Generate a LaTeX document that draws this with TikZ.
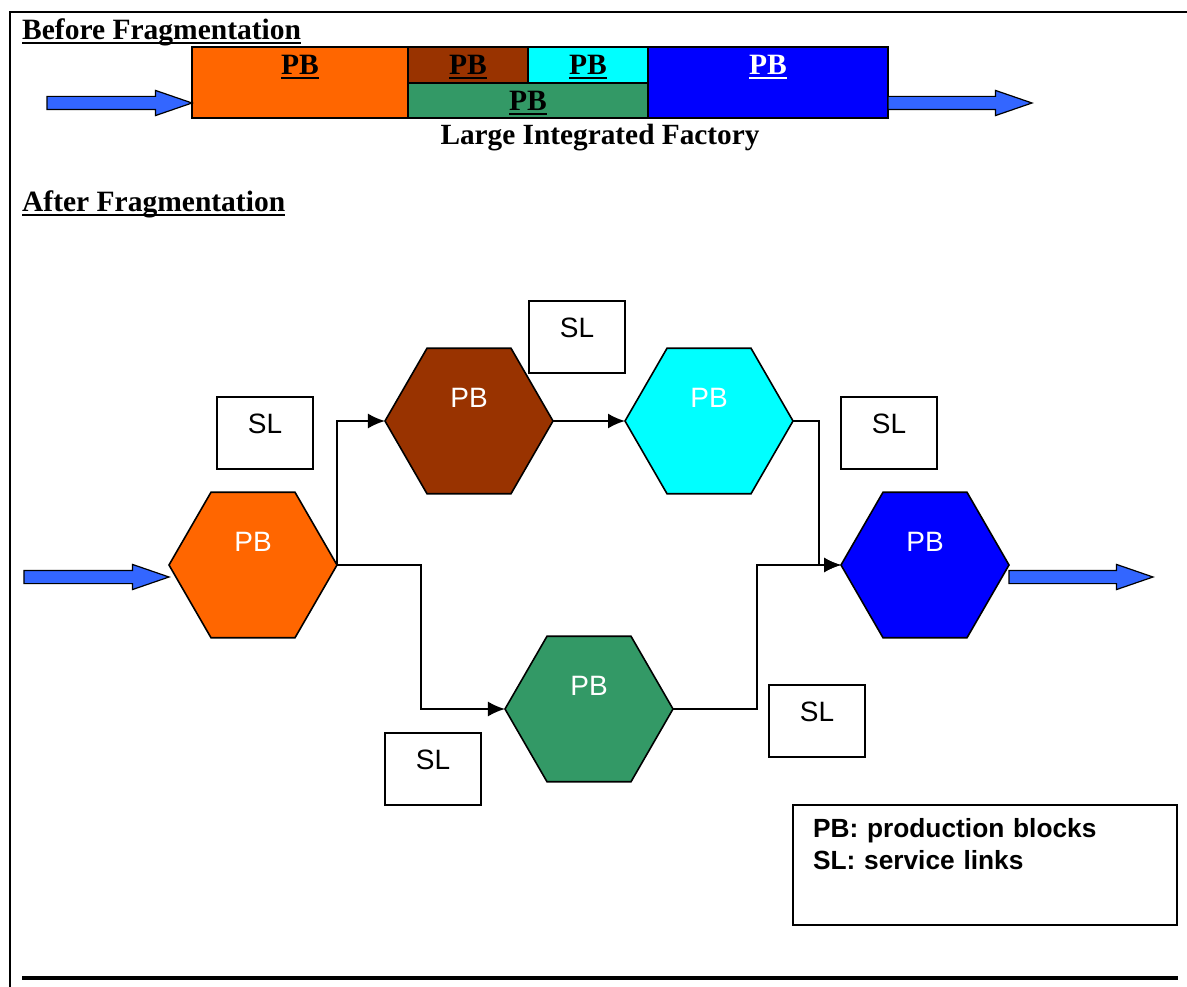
\documentclass[tikz,border=0pt]{standalone}
\usepackage{fontspec}
\setmainfont{Liberation Serif}
\newfontfamily\arialfont{Liberation Sans}
\newsavebox{\ulbox}
\newcommand{\ulword}[1]{\sbox{\ulbox}{#1}\rlap{\rule[-4.5pt]{\wd\ulbox}{2.5pt}}\usebox{\ulbox}}
\usepackage{tikz}
\usetikzlibrary{shapes.geometric, shapes.arrows, arrows.meta, positioning, calc}
\definecolor{pborange}{HTML}{FF6600}
\definecolor{pbbrown}{HTML}{993300}
\definecolor{pbcyan}{HTML}{00FFFF}
\definecolor{pbgreen}{HTML}{339966}
\definecolor{pbblue}{HTML}{0000FF}
\definecolor{blockblue}{HTML}{3366FF}
\tikzstyle{flow} = [line width=2pt,-{Latex[length=17pt,width=15pt]}]
\tikzstyle{bigarrow} = [single arrow, draw=black, fill=blockblue, line width=1.2pt, minimum height=145pt, minimum width=24pt, single arrow head extend=6pt, single arrow tip angle=38, inner xsep=0pt, inner ysep=6pt, outer sep=0pt]

\begin{document}
\begin{tikzpicture}[x=1pt, y=-1pt,
		bar/.style={rectangle, draw=black, line width=2.5pt, inner sep=0pt, outer sep=0pt, anchor=north west},
		barpb/.style={anchor=north, inner sep=0pt, yshift=-8pt, font=\fontsize{29.5}{34}\selectfont\bfseries},
		title/.style={anchor=base west, inner sep=0pt, font=\fontsize{29.5}{34}\selectfont\bfseries},
		hexblock/.style={regular polygon, regular polygon sides=6, minimum size=168pt, draw=black, line width=1.6pt, inner sep=0pt, outer sep=0pt, text=white, text depth=46pt, font=\arialfont\fontsize{28}{32}\selectfont},
		slbox/.style={rectangle, draw=black, line width=1.6pt, fill=white, minimum width=96pt, minimum height=72pt, inner sep=0pt, text depth=18pt, font=\arialfont\fontsize{28}{32}\selectfont},
		legend/.style={rectangle, draw=black, line width=1.6pt, minimum width=384pt, minimum height=120pt, text width=344pt, align=left, font=\arialfont\bfseries\fontsize{26.3}{32}\selectfont}]
		
		\useasboundingbox (0,0) rectangle (1187,987);
		\draw[line width=2pt] (10,987) -- (10,12) -- (1187,12);
		\draw[line width=4pt] (22,978) -- (1178,978);
		
		\node (before) [title] at (22,40) {\ulword{Before Fragmentation}};
		\node (barorange) [bar, fill=pborange, minimum width=216pt, minimum height=71pt, label={[barpb]north:\ulword{PB}}] at (192,47) {};
		\node (barbrown) [bar, fill=pbbrown, minimum width=120pt, minimum height=36pt, label={[barpb]north:\ulword{PB}}] at (barorange.north east) {};
		\node (barcyan) [bar, fill=pbcyan, minimum width=120pt, minimum height=36pt, label={[barpb]north:\ulword{PB}}] at (barbrown.north east) {};
		\node (bargreen) [bar, fill=pbgreen, minimum width=240pt, minimum height=35pt, label={[barpb]north:\ulword{PB}}] at (barbrown.south west) {};
		\node (barblue) [bar, fill=pbblue, minimum width=240pt, minimum height=71pt, label={[barpb, text=white]north:\ulword{PB}}] at (barcyan.north east) {};
		\node (infactory) [bigarrow, anchor=tip] at ([yshift=-20.5pt]barorange.west) {};
		\node (outfactory) [bigarrow, anchor=tail, minimum height=144pt] at ([yshift=-20.5pt]barblue.east) {};
		\node (factory) [anchor=base, inner sep=0pt, font=\fontsize{29.3}{34}\selectfont\bfseries] at (600,145) {Large Integrated Factory};
		
		\node (after) [title] at (22,212) {\ulword{After Fragmentation}};
		
		\node (hexorange) [hexblock, fill=pborange] at (253,565) {PB};
		\node (hexbrown) [hexblock, fill=pbbrown] at (469,421) {PB};
		\node (hexcyan) [hexblock, fill=pbcyan, right=72pt of hexbrown] {PB};
		\node (hexgreen) [hexblock, fill=pbgreen] at (589,709) {PB};
		\node (hexblue) [hexblock, fill=pbblue] at (925,565) {PB};
		
		\node (slone) [slbox] at (265,433) {SL};
		\node (sltwo) [slbox] at (577,337) {SL};
		\node (slthree) [slbox] at (889,433) {SL};
		\node (slfour) [slbox] at (817,721) {SL};
		\node (slfive) [slbox] at (433,769) {SL};
		
		\node (inflow) [bigarrow, anchor=tip] at ([yshift=-12pt]hexorange.west) {};
		\node (outflow) [bigarrow, anchor=tail, minimum height=144pt] at ([yshift=-12pt]hexblue.east) {};
		
		\draw[flow] (hexorange.east) |- (hexbrown.west);
		\draw[flow] (hexorange.east) -- ++(84,0) |- (hexgreen.west);
		\draw[flow] (hexbrown.east) -- (hexcyan.west);
		\draw[flow] (hexcyan.east) -- ++(26,0) |- (hexblue.west);
		\draw[flow] (hexgreen.east) -- ++(84,0) |- (hexblue.west);
		
		\node (key) [legend] at (985,865) {PB: production blocks\\ SL: service links\\ \strut};
	\end{tikzpicture}
\end{document}
